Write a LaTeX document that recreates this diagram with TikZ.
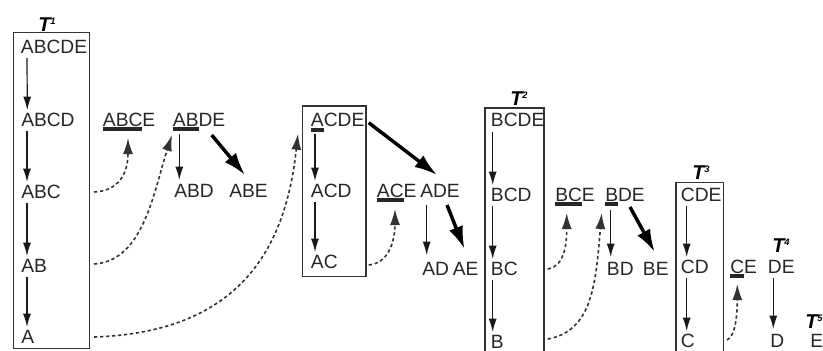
\documentclass[tikz,border=0pt]{standalone}
\usepackage{fontspec}
\setmainfont{Liberation Sans}
\usetikzlibrary{arrows.meta,calc,fit}
\newcommand\ulp[1]{\setbox0\hbox{#1}\rlap{\rule[-3.6pt]{\wd0}{2.8pt}}\box0}
\newcommand\tsup[1]{T\textsuperscript{\fontsize{7}{8}\selectfont #1}}
\begin{document}
\begin{tikzpicture}[x={(0.75pt,0)},y={(0,-0.75pt)},
  lbl/.style={inner sep=0pt, anchor=base west, font=\fontsize{14.4}{17}\selectfont, text=black!85},
  tlab/.style={inner sep=0pt, anchor=base west, font=\fontsize{15}{17}\selectfont\bfseries\itshape},
  frame/.style={draw=black!80, line width=1.1pt, inner sep=0pt},
  thinarr/.style={draw=black!90, line width=0.9pt, -{Latex[length=10pt,width=6pt]}},
  thickarr/.style={draw=black, line width=2.6pt, -{Latex[length=17pt,width=11pt]}},
  dasharr/.style={draw=black!80, line width=1.2pt, dash pattern=on 2.5pt off 2pt, -{Latex[length=12pt,width=7.5pt]}},
]
\useasboundingbox (0,0) rectangle (823,350);
% frames
\node[frame, fit={(13.3,32.3) (89.3,348.5)}] (box1) {};
\node[frame, fit={(302.7,106) (366,276.7)}] (boxa) {};
\node[frame, fit={(485,108) (544,356)}] (box2) {};
\node[frame, fit={(676,182.7) (723.3,356)}] (box3) {};
% T labels
\node[tlab] (t1) at (38,31) {\tsup{1}};
\node[tlab] (t2) at (510,105) {\tsup{2}};
\node[tlab] (t3) at (692,179) {\tsup{3}};
\node[tlab] (t4) at (772,252) {\tsup{4}};
\node[tlab] (t5) at (805,328) {\tsup{5}};
% itemsets
\node[lbl] (abcde) at (20.7,53) {ABCDE};
\node[lbl] (abcd) at (21,126) {ABCD};
\node[lbl] (abc) at (21,198) {ABC};
\node[lbl] (ab) at (21,272) {AB};
\node[lbl] (a) at (21,343) {A};
\node[lbl] (abce) at (102.7,126) {\ulp{ABC}E};
\node[lbl] (abde) at (172.7,126) {\ulp{AB}DE};
\node[lbl] (abd) at (174,197) {ABD};
\node[lbl] (abe) at (229,197) {ABE};
\node[lbl] (acde) at (310.7,126.7) {\ulp{A}CDE};
\node[lbl] (acd) at (310.7,197) {ACD};
\node[lbl] (ac) at (310.7,268) {AC};
\node[lbl] (ace) at (376.7,197) {\ulp{AC}E};
\node[lbl] (ade) at (420,197) {ADE};
\node[lbl] (ad) at (422,275) {AD};
\node[lbl] (ae) at (452.5,275) {AE};
\node[lbl] (bcde) at (490.7,126.7) {BCDE};
\node[lbl] (bcd) at (490.7,201) {BCD};
\node[lbl] (bc) at (490.7,275) {BC};
\node[lbl] (b) at (490.7,348) {B};
\node[lbl] (bce) at (555,201) {\ulp{BC}E};
\node[lbl] (bde) at (605,201) {\ulp{B}DE};
\node[lbl] (bd) at (606.7,275) {BD};
\node[lbl] (be) at (642.7,275) {BE};
\node[lbl] (cde) at (680.7,201) {CDE};
\node[lbl] (cd) at (680.7,273) {CD};
\node[lbl] (c) at (680.7,347) {C};
\node[lbl] (ce) at (730,273) {\ulp{C}E};
\node[lbl] (de) at (767.7,273) {DE};
\node[lbl] (d) at (770,347) {D};
\node[lbl] (e) at (810,347) {E};
% vertical thin arrows inside frames
\newcommand\varr[4]{\draw[thinarr] ($(#1.base west)+(#3,#4)$) -- ($(#2.base west)+(#3,-16)$);}
\varr{abcde}{abcd}{6.3}{5}
\varr{abcd}{abc}{6}{5}
\varr{abc}{ab}{6}{5}
\varr{ab}{a}{6}{5}
\varr{acde}{acd}{4.3}{7}
\varr{acd}{ac}{4.3}{5}
\varr{bcde}{bcd}{2}{5}
\varr{bcd}{bc}{2}{5}
\varr{bc}{b}{2}{5}
\varr{cde}{cd}{6}{5}
\varr{cd}{c}{6}{5}
% other thin arrows
\draw[thinarr] ($(abde.base west)+(6.6,8)$) -- ($(abd.base west)+(5.3,-17)$);
\draw[thinarr] ($(ade.base west)+(6.7,8)$) -- ($(ad.base west)+(4.7,-20)$);
\draw[thinarr] ($(bde.base west)+(5.7,9)$) -- ($(bd.base west)+(4,-18)$);
\draw[thinarr] ($(de.base west)+(5.6,5)$) -- ($(d.base west)+(3.3,-18)$);
% thick arrows
\draw[thickarr] ($(abde.base west)+(39,9)$) -- ($(abe.base west)+(16,-22)$);
\draw[thickarr] ($(acde.base west)+(58,-4)$) -- ($(ade.base west)+(17,-22)$);
\draw[thickarr] ($(ade.base west)+(27,8)$) -- ($(ae.base west)+(12,-26)$);
\draw[thickarr] ($(bde.base west)+(25,6)$) -- ($(be.base west)+(12,-23)$);
% dashed curved arrows
\draw[dasharr] ($(abc.base west -| box1.east)+(4,-6)$) .. controls +(25,-1) and +(0,35) .. ($(abce.base west)+(25.3,12)$);
\draw[dasharr] ($(ab.base west -| box1.east)+(4,-8)$) .. controls +(50,-3) and +(-18,55) .. ($(abde.base west)+(-0.7,9)$);
\draw[dasharr] ($(a.base west -| box1.east)+(4,-6)$) .. controls +(150,-5) and +(-12,110) .. ($(acde.base west)+(-12.7,7)$);
\draw[dasharr] ($(ac.base west -| boxa.east)+(2,-3)$) .. controls +(22,-2) and +(0,28) .. ($(ace.base west)+(18.3,12)$);
\draw[dasharr] ($(bc.base west -| box2.east)+(3,-6)$) .. controls +(18,-3) and +(0,28) .. ($(bce.base west)+(11.7,12)$);
\draw[dasharr] ($(b.base west -| box2.east)+(3,-9)$) .. controls +(45,-8) and +(-6,70) .. ($(bde.base west)+(-3.3,12)$);
\draw[dasharr] ($(c.base west -| box3.east)+(3,-7)$) .. controls +(9,-4) and +(0,28) .. ($(ce.base west)+(7.3,11)$);
\end{tikzpicture}
\end{document}
